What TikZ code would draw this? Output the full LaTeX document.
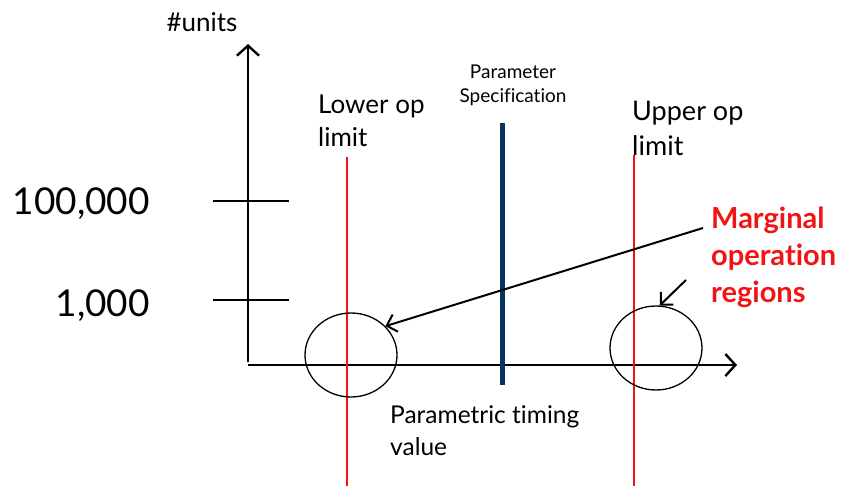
\documentclass[tikz,border=0pt]{standalone}
\usepackage{fontspec}
\setmainfont[Ligatures={NoCommon}]{Lato}
\usetikzlibrary{arrows.meta,shapes.geometric}
\definecolor{specblue}{RGB}{10,50,100}
\definecolor{limred}{RGB}{240,20,20}
\begin{document}
\begin{tikzpicture}[x=1pt,y=-1pt,
  axis/.style={line width=2.4pt,-{Straight Barb[length=10pt,width=22pt,line width=2.4pt]}},
  tick/.style={line width=1.4pt},
  limline/.style={limred,line width=1.3pt},
  region/.style={draw,ellipse,line width=1.3pt,minimum width=92pt,minimum height=84pt,inner sep=0pt},
  pointer/.style={line width=2pt,-{Straight Barb[length=9pt,width=18pt,line width=2pt]}},
  lbl/.style={inner sep=0pt,align=left,text depth=0pt}]
\useasboundingbox (0,0) rectangle (856,486);
% axes
\coordinate (o) at (248,365);
\coordinate (ytop) at (248,44);
\coordinate (xend) at (737,365);
\coordinate (ybot) at (248,362);
\draw[axis] (ybot) -- (ytop);
\draw[axis] (o) -- (xend);
% ticks
\coordinate (t1a) at (213,201); \coordinate (t1b) at (289,201);
\coordinate (t2a) at (213,300); \coordinate (t2b) at (289,300);
\draw[tick] (t1a) -- (t1b);
\draw[tick] (t2a) -- (t2b);
\node[lbl,anchor=east,font=\fontsize{37}{44}\selectfont] (n100k) at (150,201) {100,000};
\node[lbl,anchor=east,font=\fontsize{37}{44}\selectfont] (n1k) at (150,303) {1,000};
\node[lbl,font=\fontsize{26}{30}\selectfont] (units) at (202,22) {\#units};
% limit lines
\coordinate (lo1) at (347,157); \coordinate (lo2) at (347,486);
\coordinate (up1) at (634,155); \coordinate (up2) at (634,486);
\draw[limline] (lo1) -- (lo2);
\draw[limline] (up1) -- (up2);
\node[lbl,anchor=west,font=\fontsize{26}{33}\selectfont] (lower) at (318,121) {Lower op\\limit};
\node[lbl,anchor=west,font=\fontsize{27}{35}\selectfont] (upper) at (632,128) {Upper op\\limit};
% spec line
\coordinate (sp1) at (502,123); \coordinate (sp2) at (502,385);
\draw[specblue,line width=5pt] (sp1) -- (sp2);
\node[lbl,align=center,font=\fontsize{19}{24}\selectfont] (spec) at (513,84) {Parameter\\Specification};
% regions
\node[region] (cl) at (351,355) {};
\node[region] (cr) at (656,348) {};
\node[lbl,anchor=west,text=limred,font=\bfseries\fontsize{29}{37}\selectfont] (marg) at (711,255) {Marginal\\operation\\regions};
\coordinate (a1) at (703,228);
\coordinate (a2) at (686,280);
\draw[pointer] (a1) -- (cl.40);
\draw[pointer] (a2) -- (cr.85);
\node[lbl,anchor=west,font=\fontsize{24.5}{32}\selectfont] (ptv) at (390,431) {Parametric timing\\value};
\end{tikzpicture}
\end{document}
